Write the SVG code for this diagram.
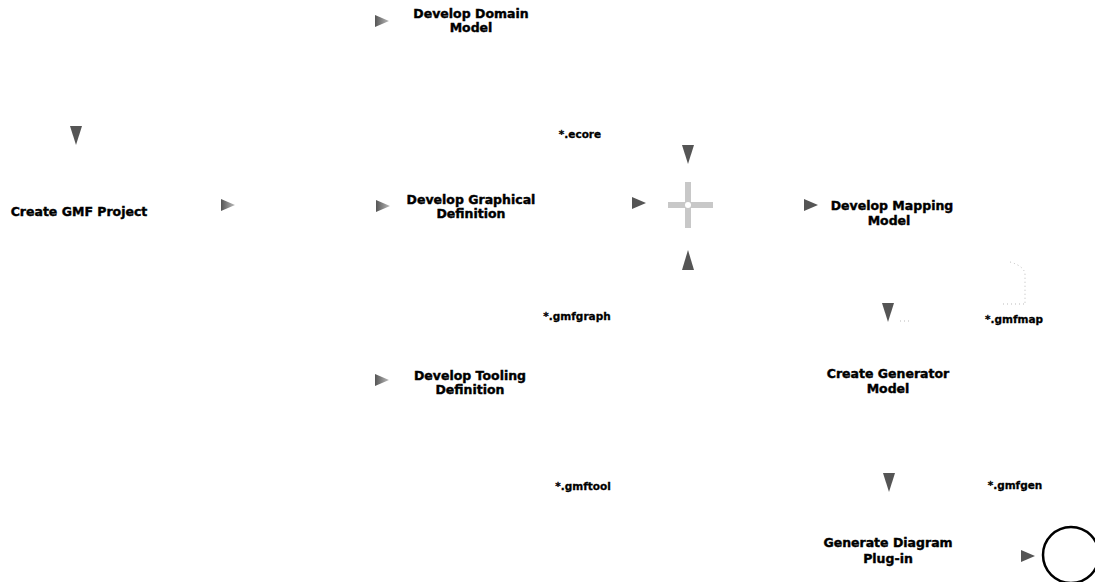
<svg xmlns="http://www.w3.org/2000/svg" width="1095" height="582" viewBox="0 0 1095 582">
<style>
.t{font-family:"DejaVu Sans","Liberation Sans",sans-serif;font-weight:bold;font-size:12.5px;fill:#000;stroke:#000;stroke-width:0.4;text-anchor:middle}
.s{font-family:"DejaVu Sans","Liberation Sans",sans-serif;font-weight:bold;font-size:10.5px;fill:#000;stroke:#000;stroke-width:0.3;text-anchor:middle}
.ah{fill:url(#gr)}
.ahd{fill:#555}
</style>
<defs>
<linearGradient id="gr" x1="0" y1="0" x2="1" y2="0">
<stop offset="0" stop-color="#555"/><stop offset="1" stop-color="#bbb"/>
</linearGradient>
<path id="ar" d="M-6,-6 L8,0 L-6,6 Z"/>
<path id="ad" d="M-6,-9 L6,-9 L0,10 Z"/>
</defs>
<rect width="1095" height="582" fill="#fff"/>
<g id="connectors">
<use href="#ar" class="ah" x="381" y="21"/>
<use href="#ad" class="ahd" x="76" y="135"/>
<use href="#ar" class="ah" x="227" y="205"/>
<use href="#ar" class="ah" x="382" y="206"/>
<use href="#ar" class="ahd" x="638" y="203"/>
<use href="#ad" class="ahd" x="688" y="154"/>
<path d="M682,270 L694,270 L688,250 Z" class="ahd"/>
<use href="#ar" class="ahd" x="810" y="205"/>
<use href="#ad" class="ahd" x="888" y="312"/>
<use href="#ar" class="ah" x="381" y="380"/>
<use href="#ad" class="ahd" x="889" y="482"/>
<use href="#ar" class="ahd" x="1027" y="556"/>
<path d="M1010,262 Q1024,266 1025,274 L1025,304 M1003,304 L1025,304 M900,321 L910,321" fill="none" stroke="#bbb" stroke-width="1" stroke-dasharray="1,3"/>
</g>
<g id="create-gmf-project"><text class="t" x="79" y="216">Create GMF Project</text></g>
<g id="develop-domain-model"><text class="t" x="471" y="18">Develop Domain</text><text class="t" x="471" y="32">Model</text></g>
<g id="develop-graphical-definition"><text class="t" x="471" y="204">Develop Graphical</text><text class="t" x="471" y="218">Definition</text></g>
<g id="develop-tooling-definition"><text class="t" x="470" y="380">Develop Tooling</text><text class="t" x="470" y="394">Definition</text></g>
<g id="develop-mapping-model"><text class="t" x="892" y="210">Develop Mapping</text><text class="t" x="889" y="225">Model</text></g>
<g id="create-generator-model"><text class="t" x="888" y="378">Create Generator</text><text class="t" x="888" y="393">Model</text></g>
<g id="generate-diagram-plugin"><text class="t" x="888" y="547">Generate Diagram</text><text class="t" x="888" y="563">Plug-in</text></g>
<g id="ecore"><text class="s" x="580" y="138">*.ecore</text></g>
<g id="gmfgraph"><text class="s" x="577" y="320">*.gmfgraph</text></g>
<g id="gmftool"><text class="s" x="583" y="490">*.gmftool</text></g>
<g id="gmfmap"><text class="s" x="1014" y="323">*.gmfmap</text></g>
<g id="gmfgen"><text class="s" x="1015" y="489">*.gmfgen</text></g>
<g id="merge">
<rect x="668" y="202" width="45" height="6" fill="#c8c8c8"/>
<rect x="685" y="182" width="6" height="46" fill="#c8c8c8"/>
<circle cx="688" cy="205" r="3" fill="#fff"/>
</g>
<g id="final"><circle cx="1071" cy="555" r="28" fill="#fff" stroke="#000" stroke-width="2.5"/></g>
</svg>
